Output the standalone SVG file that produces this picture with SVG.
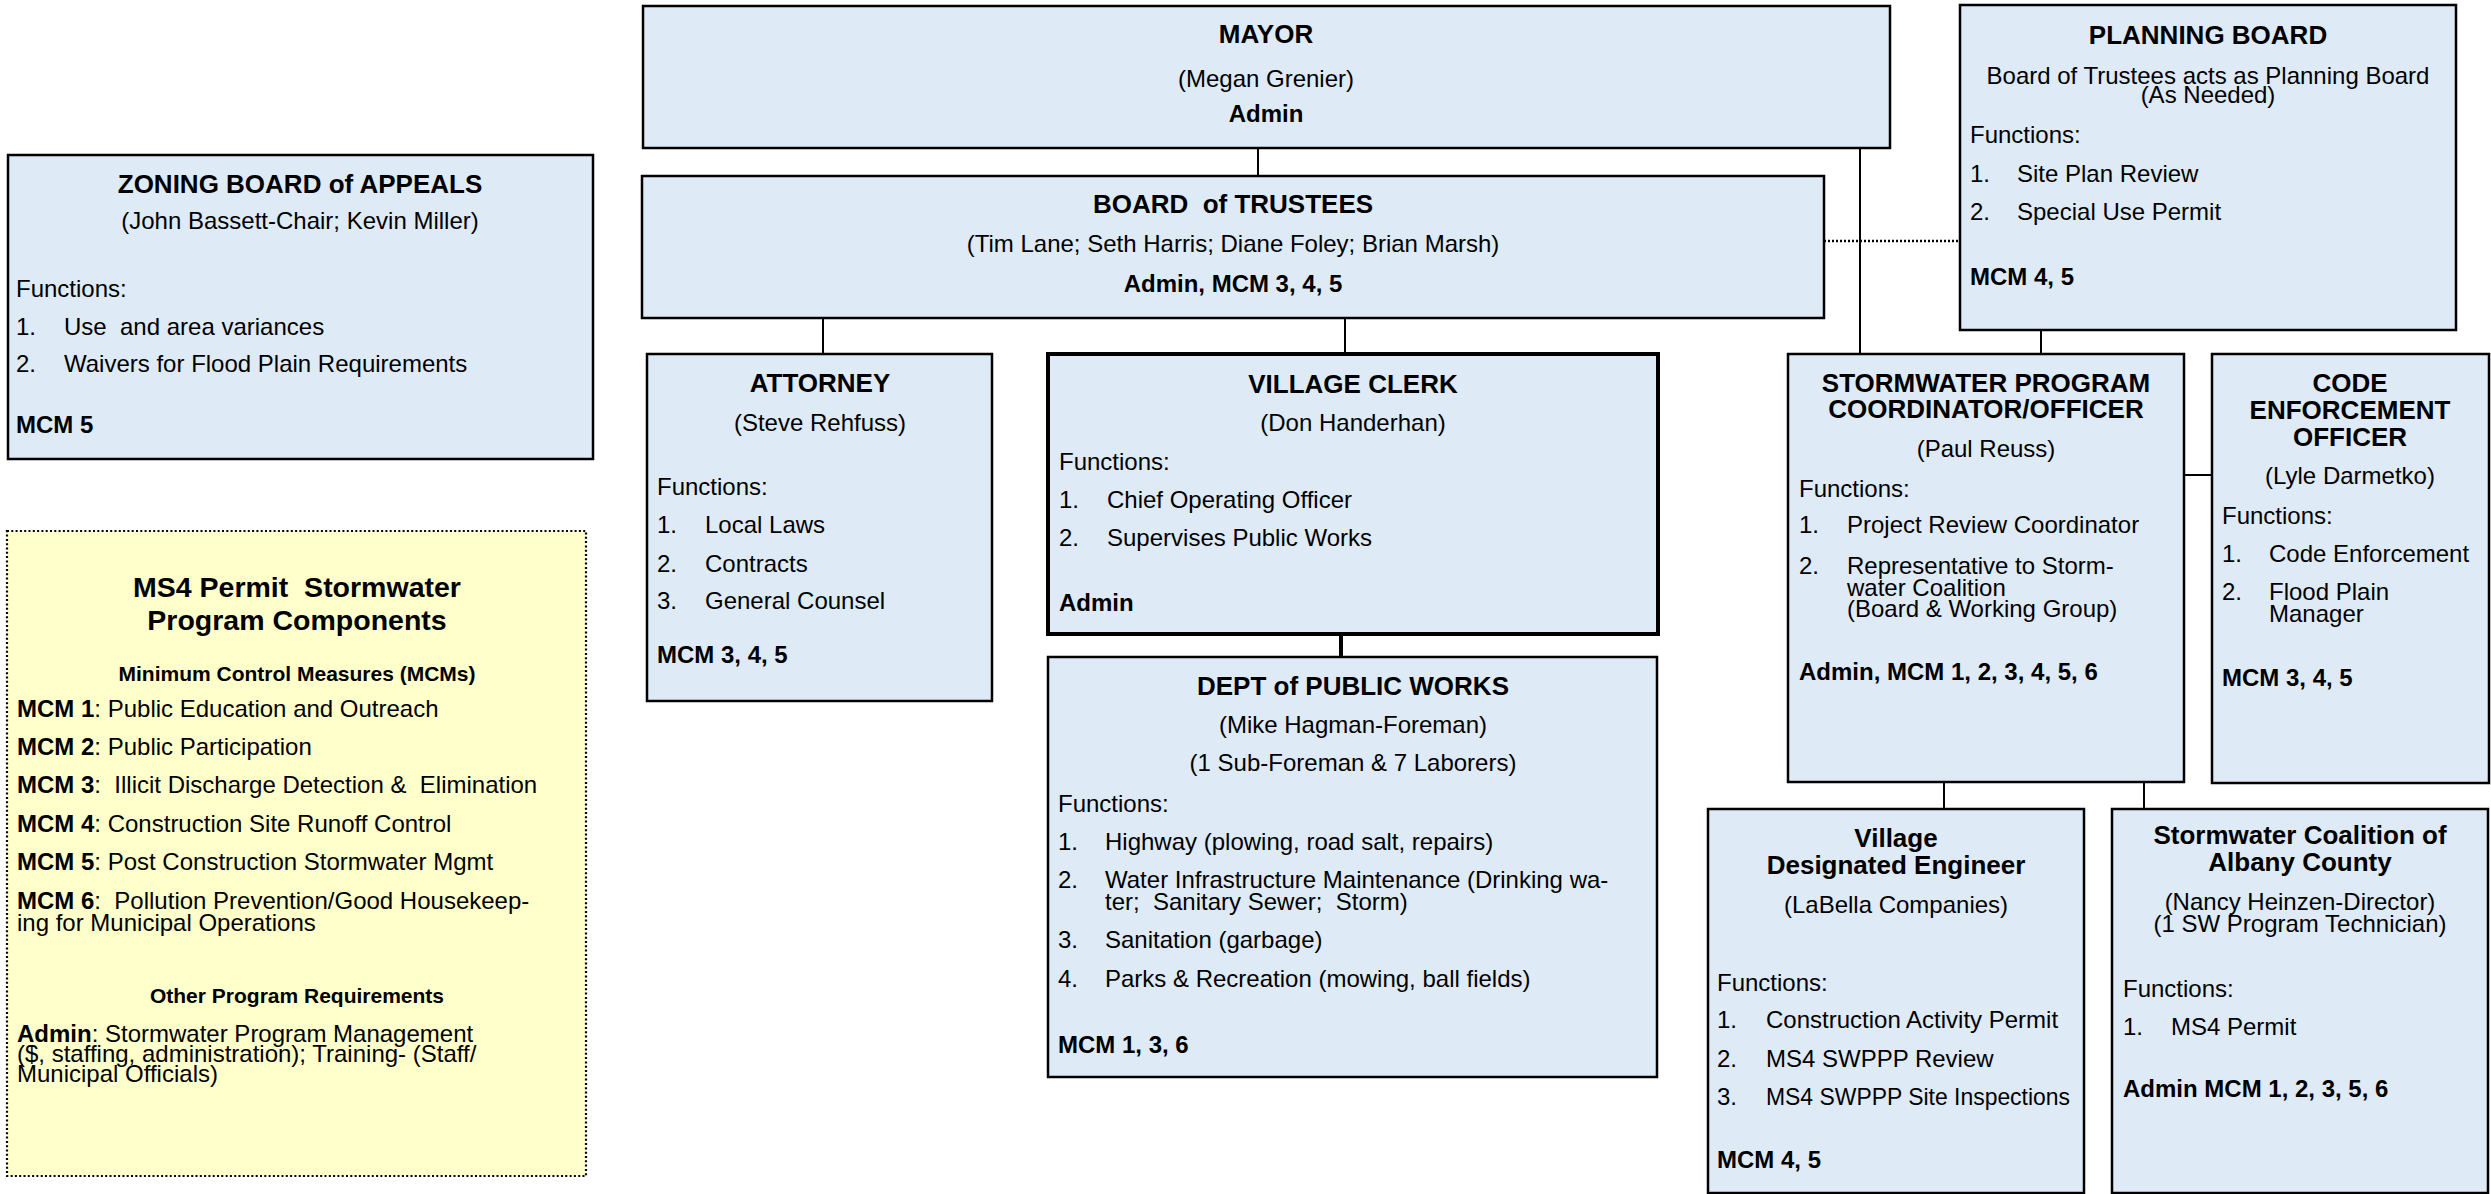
<svg xmlns="http://www.w3.org/2000/svg" width="2491" height="1194" viewBox="0 0 2491 1194" xml:space="preserve">
<style>
text{font-family:"Liberation Sans",Arial,sans-serif;font-size:24px;fill:#000;white-space:pre}
.h{font-weight:bold;font-size:26px;text-anchor:middle}
.c{text-anchor:middle}
.b{font-weight:bold}
.box{fill:#DEEAF6;stroke:#000;stroke-width:2.5}
.thick{stroke-width:4}
.note{fill:#FFFFCC;stroke:#000;stroke-width:2.2;stroke-dasharray:2 2.3}
.ln{stroke:#000;stroke-width:2;fill:none}
.dot{stroke:#000;stroke-width:2.5;fill:none;stroke-dasharray:2 2}
</style>
<rect width="2491" height="1194" fill="#fff"/>

<g id="connectors">
<path class="ln" d="M1258,148V176"/>
<path class="ln" d="M1860,148V354"/>
<path class="dot" d="M1824,241H1960"/>
<path class="ln" d="M2041,330V354"/>
<path class="ln" d="M823,318V354"/>
<path class="ln" d="M1345,318V354"/>
<path class="ln" d="M1341,634V657" style="stroke-width:4"/>
<path class="ln" d="M2184,475H2212"/>
<path class="ln" d="M1944,782V809"/>
<path class="ln" d="M2144,782V809"/>
</g>

<g id="zoning">
<rect class="box" x="8" y="155" width="585" height="304"/>
<text class="h" x="300" y="193">ZONING BOARD of APPEALS</text>
<text class="c" x="300" y="229">(John Bassett-Chair; Kevin Miller)</text>
<text x="16" y="297">Functions:</text>
<text x="16" y="335">1.</text><text x="64" y="335">Use  and area variances</text>
<text x="16" y="372">2.</text><text x="64" y="372">Waivers for Flood Plain Requirements</text>
<text class="b" x="16" y="433">MCM 5</text>
</g>

<g id="mayor">
<rect class="box" x="643" y="6" width="1247" height="142"/>
<text class="h" x="1266" y="43">MAYOR</text>
<text class="c" x="1266" y="87">(Megan Grenier)</text>
<text class="c b" x="1266" y="122">Admin</text>
</g>

<g id="trustees">
<rect class="box" x="642" y="176" width="1182" height="142"/>
<text class="h" x="1233" y="213">BOARD  of TRUSTEES</text>
<text class="c" x="1233" y="252">(Tim Lane; Seth Harris; Diane Foley; Brian Marsh)</text>
<text class="c b" x="1233" y="292">Admin, MCM 3, 4, 5</text>
</g>

<g id="planning">
<rect class="box" x="1960" y="5" width="496" height="325"/>
<text class="h" x="2208" y="44">PLANNING BOARD</text>
<text class="c" x="2208" y="84">Board of Trustees acts as Planning Board<tspan x="2208" dy="19">(As Needed)</tspan></text>
<text x="1970" y="143">Functions:</text>
<text x="1970" y="182">1.</text><text x="2017" y="182">Site Plan Review</text>
<text x="1970" y="220">2.</text><text x="2017" y="220">Special Use Permit</text>
<text class="b" x="1970" y="285">MCM 4, 5</text>
</g>

<g id="attorney">
<rect class="box" x="647" y="354" width="345" height="347"/>
<text class="h" x="820" y="392">ATTORNEY</text>
<text class="c" x="820" y="431">(Steve Rehfuss)</text>
<text x="657" y="495">Functions:</text>
<text x="657" y="533">1.</text><text x="705" y="533">Local Laws</text>
<text x="657" y="572">2.</text><text x="705" y="572">Contracts</text>
<text x="657" y="609">3.</text><text x="705" y="609">General Counsel</text>
<text class="b" x="657" y="663">MCM 3, 4, 5</text>
</g>

<g id="clerk">
<rect class="box thick" x="1048" y="354" width="610" height="280"/>
<text class="h" x="1353" y="393">VILLAGE CLERK</text>
<text class="c" x="1353" y="431">(Don Handerhan)</text>
<text x="1059" y="470">Functions:</text>
<text x="1059" y="508">1.</text><text x="1107" y="508">Chief Operating Officer</text>
<text x="1059" y="546">2.</text><text x="1107" y="546">Supervises Public Works</text>
<text class="b" x="1059" y="611">Admin</text>
</g>

<g id="dpw">
<rect class="box" x="1048" y="657" width="609" height="420"/>
<text class="h" x="1353" y="695">DEPT of PUBLIC WORKS</text>
<text class="c" x="1353" y="733">(Mike Hagman-Foreman)</text>
<text class="c" x="1353" y="771">(1 Sub-Foreman &amp; 7 Laborers)</text>
<text x="1058" y="812">Functions:</text>
<text x="1058" y="850">1.</text><text x="1105" y="850">Highway (plowing, road salt, repairs)</text>
<text x="1058" y="888">2.</text><text x="1105" y="888">Water Infrastructure Maintenance (Drinking wa-<tspan x="1105" dy="22">ter;  Sanitary Sewer;  Storm)</tspan></text>
<text x="1058" y="948">3.</text><text x="1105" y="948">Sanitation (garbage)</text>
<text x="1058" y="987">4.</text><text x="1105" y="987">Parks &amp; Recreation (mowing, ball fields)</text>
<text class="b" x="1058" y="1053">MCM 1, 3, 6</text>
</g>

<g id="stormwater-coordinator">
<rect class="box" x="1788" y="354" width="396" height="428"/>
<text class="h" x="1986" y="392">STORMWATER PROGRAM<tspan x="1986" dy="26">COORDINATOR/OFFICER</tspan></text>
<text class="c" x="1986" y="457">(Paul Reuss)</text>
<text x="1799" y="497">Functions:</text>
<text x="1799" y="533">1.</text><text x="1847" y="533">Project Review Coordinator</text>
<text x="1799" y="574">2.</text><text x="1847" y="574">Representative to Storm-<tspan x="1847" dy="22">water Coalition</tspan><tspan x="1847" dy="21">(Board &amp; Working Group)</tspan></text>
<text class="b" x="1799" y="680">Admin, MCM 1, 2, 3, 4, 5, 6</text>
</g>

<g id="code-enforcement">
<rect class="box" x="2212" y="354" width="277" height="429"/>
<text class="h" x="2350" y="392">CODE<tspan x="2350" dy="27">ENFORCEMENT</tspan><tspan x="2350" dy="27">OFFICER</tspan></text>
<text class="c" x="2350" y="484">(Lyle Darmetko)</text>
<text x="2222" y="524">Functions:</text>
<text x="2222" y="562">1.</text><text x="2269" y="562">Code Enforcement</text>
<text x="2222" y="600">2.</text><text x="2269" y="600">Flood Plain<tspan x="2269" dy="22">Manager</tspan></text>
<text class="b" x="2222" y="686">MCM 3, 4, 5</text>
</g>

<g id="engineer">
<rect class="box" x="1708" y="809" width="376" height="384"/>
<text class="h" x="1896" y="847">Village<tspan x="1896" dy="27">Designated Engineer</tspan></text>
<text class="c" x="1896" y="913">(LaBella Companies)</text>
<text x="1717" y="991">Functions:</text>
<text x="1717" y="1028">1.</text><text x="1766" y="1028">Construction Activity Permit</text>
<text x="1717" y="1067">2.</text><text x="1766" y="1067">MS4 SWPPP Review</text>
<text x="1717" y="1105">3.</text><text x="1766" y="1105" textLength="304" lengthAdjust="spacingAndGlyphs">MS4 SWPPP Site Inspections</text>
<text class="b" x="1717" y="1168">MCM 4, 5</text>
</g>

<g id="coalition">
<rect class="box" x="2112" y="809" width="376" height="384"/>
<text class="h" x="2300" y="844">Stormwater Coalition of<tspan x="2300" dy="27">Albany County</tspan></text>
<text class="c" x="2300" y="910">(Nancy Heinzen-Director)<tspan x="2300" dy="22">(1 SW Program Technician)</tspan></text>
<text x="2123" y="997">Functions:</text>
<text x="2123" y="1035">1.</text><text x="2171" y="1035">MS4 Permit</text>
<text class="b" x="2123" y="1097">Admin MCM 1, 2, 3, 5, 6</text>
</g>

<g id="ms4-legend">
<rect class="note" x="7" y="531" width="579" height="645"/>
<text class="h" x="297" y="597" style="font-size:28.5px">MS4 Permit  Stormwater<tspan x="297" dy="33">Program Components</tspan></text>
<text class="h" x="297" y="681" style="font-size:21px">Minimum Control Measures (MCMs)</text>
<text x="17" y="717"><tspan class="b">MCM 1</tspan>: Public Education and Outreach</text>
<text x="17" y="755"><tspan class="b">MCM 2</tspan>: Public Participation</text>
<text x="17" y="793"><tspan class="b">MCM 3</tspan>:  Illicit Discharge Detection &amp;  Elimination</text>
<text x="17" y="832"><tspan class="b">MCM 4</tspan>: Construction Site Runoff Control</text>
<text x="17" y="870"><tspan class="b">MCM 5</tspan>: Post Construction Stormwater Mgmt</text>
<text x="17" y="909"><tspan class="b">MCM 6</tspan>:  Pollution Prevention/Good Housekeep-<tspan x="17" dy="22">ing for Municipal Operations</tspan></text>
<text class="h" x="297" y="1003" style="font-size:21px">Other Program Requirements</text>
<text x="17" y="1042"><tspan class="b">Admin</tspan>: Stormwater Program Management<tspan x="17" dy="20">($, staffing, administration); Training- (Staff/</tspan><tspan x="17" dy="20">Municipal Officials)</tspan></text>
</g>
</svg>
